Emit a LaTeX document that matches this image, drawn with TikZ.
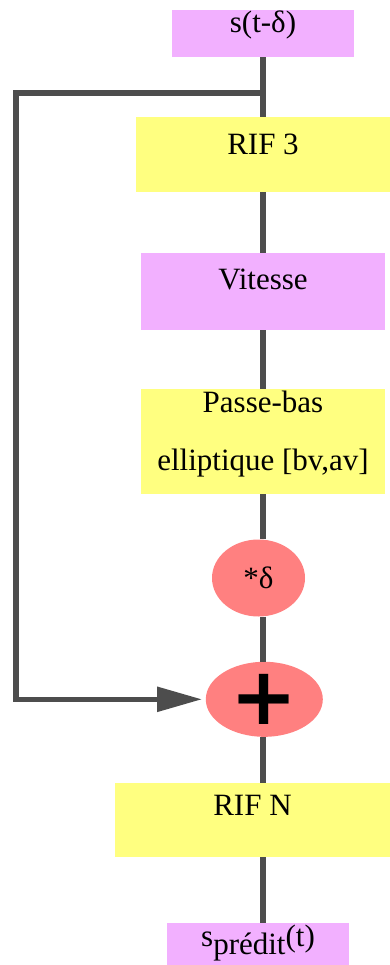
\documentclass[tikz,border=0pt]{standalone}
\usepackage{fontspec}
\setmainfont{Liberation Serif}
\newfontfamily\plusfont{DejaVu Sans}
\usetikzlibrary{arrows.meta,shapes.geometric}
\definecolor{mauve}{RGB}{242,176,255}
\definecolor{jaune}{RGB}{255,255,128}
\definecolor{saumon}{RGB}{255,128,128}
\definecolor{trait}{RGB}{77,77,77}

\begin{document}
\begin{tikzpicture}[x=1pt, y=-1pt,
      bloc/.style={fill=#1, inner sep=0pt, font=\fontsize{31}{36}\selectfont},
      ligne/.style={text height=20pt, text depth=#1},
      bulle/.style={ellipse, fill=saumon, inner sep=0pt, font=\fontsize{31}{36}\selectfont},
      lien/.style={draw=trait, line width=5.5pt},
      >={Triangle[length=45pt,width=24pt]}
    ]
    \useasboundingbox (0,0) rectangle (390,965);
    \node[bloc=mauve, ligne=21pt, minimum width=182pt, minimum height=47pt] (entree) at (263,33.5) {s(t-δ)};
    \node[bloc=jaune, ligne=20pt, minimum width=254pt, minimum height=75pt] (rif3) at (263,154.5) {RIF 3};
    \node[bloc=mauve, ligne=24pt, minimum width=244pt, minimum height=77pt] (vitesse) at (263,291.3) {Vitesse};
    \node[bloc=jaune, align=center, font=\fontsize{31}{58}\selectfont, minimum width=244pt, minimum height=105pt] (passebas) at (263,441.5) {Passe-bas\\elliptique [bv,av]\rule[-21.5pt]{0pt}{21.5pt}};
    \node[bulle, minimum width=93pt, minimum height=77pt] (delta) at (258.5,578) {*δ};
    \node[bulle, minimum width=117pt, minimum height=75pt] (somme) at (264.3,699.3) {\plusfont\bfseries\fontsize{80}{80}\selectfont +};
    \node[bloc=jaune, ligne=30pt, minimum width=275pt, minimum height=74pt] (rifn) at (252.5,820) {RIF N};
    \node[bloc=mauve, ligne=16pt, minimum width=182pt, minimum height=42pt] (sortie) at (258,944) {s\raisebox{-8pt}{prédit}(t)};
    \coordinate (retour) at (263,93);
    \foreach \a/\b in {entree/rif3, rif3/vitesse, vitesse/passebas, passebas/delta, delta/somme, somme/rifn, rifn/sortie}
      \draw[lien] (entree.south |- \a.south) -- (entree.south |- \b.north);
    \draw[lien, ->, shorten >=3.5pt] (retour) -- ++(-247,0) |- (somme.west);
  \end{tikzpicture}
\end{document}
